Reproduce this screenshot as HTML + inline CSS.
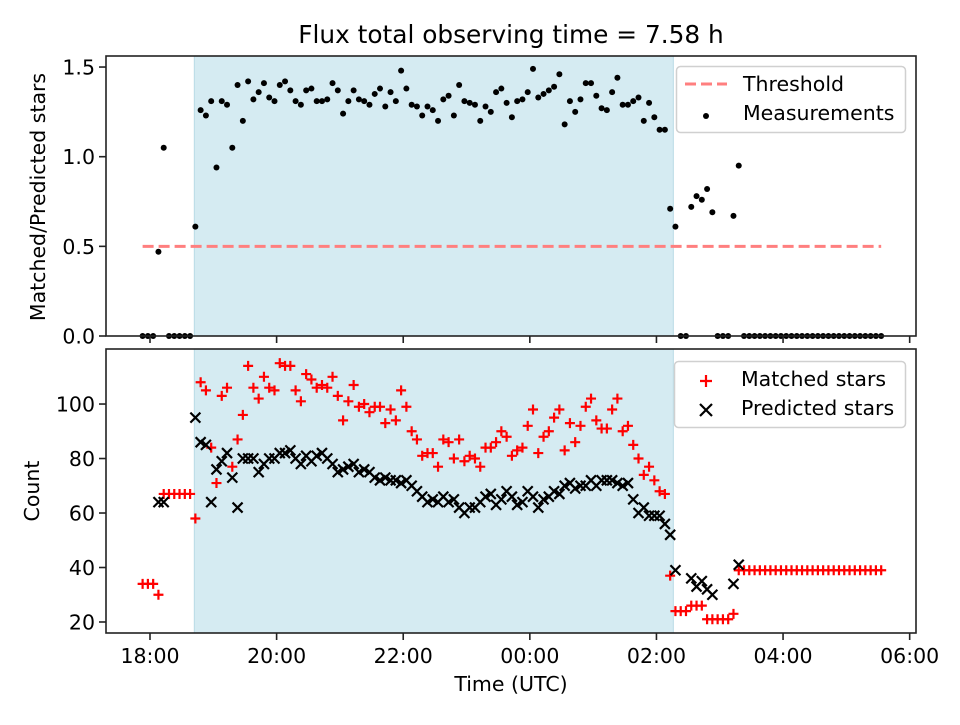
<!DOCTYPE html>
<html><head><meta charset="utf-8"><style>
body{margin:0;background:#fff}
svg{font-family:"DejaVu Sans","Liberation Sans",sans-serif}
</style></head><body>
<svg id="c" width="960" height="720" viewBox="0 0 960 720" xmlns="http://www.w3.org/2000/svg"></svg>
<script>
// minutes since 18:00 UTC
const times=[-7,-2,3,8,13,18,23,28,33,38,43,48,53,58,63,68,73,78,83,88,93,98,103,108,113,118,123,128,133,138,143,148,153,158,163,168,173,178,183,188,193,198,203,208,213,218,223,228,233,238,243,248,253,258,263,268,273,278,283,288,293,298,303,308,313,318,323,328,333,338,343,348,353,358,363,368,373,378,383,388,393,398,403,408,413,418,423,428,433,438,443,448,453,458,463,468,473,478,483,488,493,498,503,508,513,518,523,528,533,538,543,548,553,558,563,568,573,578,583,588,593,598,603,608,613,618,623,628,633,638,643,648,653,658,663,668,673,678,683,688,693];
const ratio=[0,0,0,0.47,1.05,0,0,0,0,0,
0.61,1.26,1.23,1.31,0.94,1.31,1.29,1.05,1.40,1.20,1.42,1.32,1.36,1.41,1.33,1.31,1.40,1.42,1.37,1.31,1.29,1.37,1.38,1.31,1.31,1.32,1.41,1.37,1.24,1.31,1.37,1.32,1.31,1.29,1.35,1.38,1.28,1.36,1.31,1.48,
1.38,1.29,1.28,1.23,1.28,1.26,1.20,1.32,1.34,1.23,1.40,1.31,1.30,1.29,1.20,1.28,1.25,1.36,1.38,1.30,1.22,1.31,1.32,1.36,1.49,1.33,1.35,1.37,1.39,1.46,1.18,1.31,1.25,1.32,1.41,1.41,1.34,1.27,1.26,1.36,1.44,1.29,1.29,1.31,1.33,1.20,1.30,1.22,1.15,1.15,0.71,0.61,
0,0,0.72,0.78,0.76,0.82,0.69,0,0,0,0.67,0.95,
0,0,0,0,0,0,0,0,0,0,0,0,0,0,0,0,0,0,0,0,0,0,0,0,0,0,0];
const matched=[34,34,34,30,67,67,67,67,67,67,
58,108,105,84,71,103,106,77,87,96,114,106,102,110,106,105,115,114,114,105,101,111,109,106,107,106,110,103,94,101,107,99,100,97,99,99,93,98,94,105,
99,90,87,81,82,82,77,87,86,80,87,79,81,80,77,84,84,86,90,88,81,83,84,92,98,82,88,90,95,98,83,93,86,92,99,102,94,91,91,98,102,90,92,85,80,74,77,72,68,67,37,24,
24,24,26,26,26,21,21,21,21,21,23,39,
39,39,39,39,39,39,39,39,39,39,39,39,39,39,39,39,39,39,39,39,39,39,39,39,39,39,39];
const predicted=[null,null,null,64,64,null,null,null,null,null,
95,86,85,64,76,79,82,73,62,80,80,80,75,78,80,80,82,82,83,80,78,81,79,81,82,80,78,75,76,77,78,75,76,75,73,72,73,72,72,71,
72,70,68,66,64,65,64,66,64,65,62,60,62,62,64,66,67,63,65,68,66,63,64,68,66,62,65,66,68,67,70,71,69,70,70,72,70,72,72,72,71,70,71,65,60,62,59,59,59,56,52,39,
null,null,36,33,35,32,30,null,null,null,34,41,
null,null,null,null,null,null,null,null,null,null,null,null,null,null,null,null,null,null,null,null,null,null,null,null,null,null,null];
const xTickVals=[0,120,240,360,480,600,720];
const xTickLabels=["18:00","20:00","22:00","00:00","02:00","04:00","06:00"];
const topTicks=[0,0.5,1.0,1.5];
const topTickLabels=["0.0","0.5","1.0","1.5"];
const botTicks=[20,40,60,80,100];
const threshold=[0.5];
const shadeRange=[42,496];
const thrRange=[-7,693];

const NS="http://www.w3.org/2000/svg";
const svg=document.getElementById('c');
function mk(t,a,p){const e=document.createElementNS(NS,t);for(const k in a)e.setAttribute(k,a[k]);(p||svg).appendChild(e);return e;}
const FS=20.5;
const L=106,R=916;
const X=m=>L+(m-(-41.7))/(726-(-41.7))*(R-L);
const T={t:56,b:336,min:0,max:1.5616};
const B={t:349,b:633,min:15.96,max:120.2};
const Yt=v=>T.b-(v-T.min)/(T.max-T.min)*(T.b-T.t);
const Yb=v=>B.b-(v-B.min)/(B.max-B.min)*(B.b-B.t);

let t=mk('text',{x:511,y:43,'text-anchor':'middle','font-size':24.8,fill:'#000'});t.textContent="Flux total observing time = 7.58 h";


function panel(P,name){
  const g=mk('g',{});
  
  
  const s=mk('rect',{x:X(shadeRange[0]),y:P.t,width:X(shadeRange[1])-X(shadeRange[0]),height:P.b-P.t,fill:'#d5ebf2',stroke:'#b9dbe6','stroke-width':1},g);
  
  
  return g;
}
function frame(P,g){
  mk('rect',{x:L,y:P.t,width:R-L,height:P.b-P.t,fill:'none',stroke:'#222','stroke-width':1.6},g);
  xTickVals.forEach(v=>mk('line',{x1:X(v),x2:X(v),y1:P.b,y2:P.b+7,stroke:'#222','stroke-width':1.6},g));
}
// TOP
const gt=panel(T,'ratio-panel');
const th=mk('line',{x1:X(thrRange[0]),x2:X(thrRange[1]),y1:Yt(threshold[0]),y2:Yt(threshold[0]),stroke:'#ff7f7f','stroke-width':3,'stroke-dasharray':'11,5'},gt);

times.forEach((m,i)=>{if(ratio[i]==null)return;const c=mk('circle',{cx:X(m),cy:Yt(ratio[i]),r:3,fill:'#000'},gt);
});
frame(T,gt);
topTicks.forEach((v,i)=>{mk('line',{x1:L-7,x2:L,y1:Yt(v),y2:Yt(v),stroke:'#222','stroke-width':1.6},gt);
 const tx=mk('text',{x:L-11,y:Yt(v)+7.5,'text-anchor':'end','font-size':FS},gt);tx.textContent=topTickLabels[i];
 });
let yl=mk('text',{x:45,y:197,'text-anchor':'middle','font-size':FS,transform:'rotate(-90 45 197)'});yl.textContent="Matched/Predicted stars";

const lg=mk('g',{});
mk('rect',{x:676.5,y:66.5,width:229,height:66,rx:4,fill:'#fff','fill-opacity':0.8,stroke:'#d0d0d0','stroke-width':1.5},lg);
mk('line',{x1:685,x2:727,y1:84,y2:84,stroke:'#ff7f7f','stroke-width':3,'stroke-dasharray':'11,5'},lg);
let lt=mk('text',{x:743,y:91,'font-size':FS},lg);lt.textContent="Threshold";
mk('circle',{cx:706,cy:116,r:3,fill:'#000'},lg);
lt=mk('text',{x:743,y:120,'font-size':FS},lg);lt.textContent="Measurements";

// BOTTOM
const gb=panel(B,'count-panel');
times.forEach((m,i)=>{if(matched[i]==null)return;const x=X(m),y=Yb(matched[i]);
 const p=mk('path',{d:`M${x-5} ${y}H${x+5}M${x} ${y-5}V${y+5}`,stroke:'#ff0000','stroke-width':2.2,fill:'none'},gb);
 });
times.forEach((m,i)=>{if(predicted[i]==null)return;const x=X(m),y=Yb(predicted[i]);
 const p=mk('path',{d:`M${x-5} ${y-5}L${x+5} ${y+5}M${x-5} ${y+5}L${x+5} ${y-5}`,stroke:'#000','stroke-width':2.2,fill:'none'},gb);
 });
frame(B,gb);
botTicks.forEach(v=>{mk('line',{x1:L-7,x2:L,y1:Yb(v),y2:Yb(v),stroke:'#222','stroke-width':1.6},gb);
 const tx=mk('text',{x:L-11,y:Yb(v)+7.5,'text-anchor':'end','font-size':FS},gb);tx.textContent=String(v);
 });
xTickVals.forEach((v,i)=>{const tx=mk('text',{x:X(v),y:663,'text-anchor':'middle','font-size':FS},gb);tx.textContent=xTickLabels[i];
 });
yl=mk('text',{x:39,y:491,'text-anchor':'middle','font-size':FS,transform:'rotate(-90 39 491)'});yl.textContent="Count";

let xl=mk('text',{x:511,y:691,'text-anchor':'middle','font-size':FS});xl.textContent="Time (UTC)";

const lb=mk('g',{});
mk('rect',{x:674.5,y:361.5,width:231,height:66,rx:4,fill:'#fff','fill-opacity':0.8,stroke:'#d0d0d0','stroke-width':1.5},lb);
mk('path',{d:'M700 381H712M706 375V387',stroke:'#ff0000','stroke-width':2.2},lb);
lt=mk('text',{x:741,y:386,'font-size':FS},lb);lt.textContent="Matched stars";
mk('path',{d:'M700 404L712 416M700 416L712 404',stroke:'#000','stroke-width':2.2},lb);
lt=mk('text',{x:741,y:415,'font-size':FS},lb);lt.textContent="Predicted stars";
</script>
</body></html>
